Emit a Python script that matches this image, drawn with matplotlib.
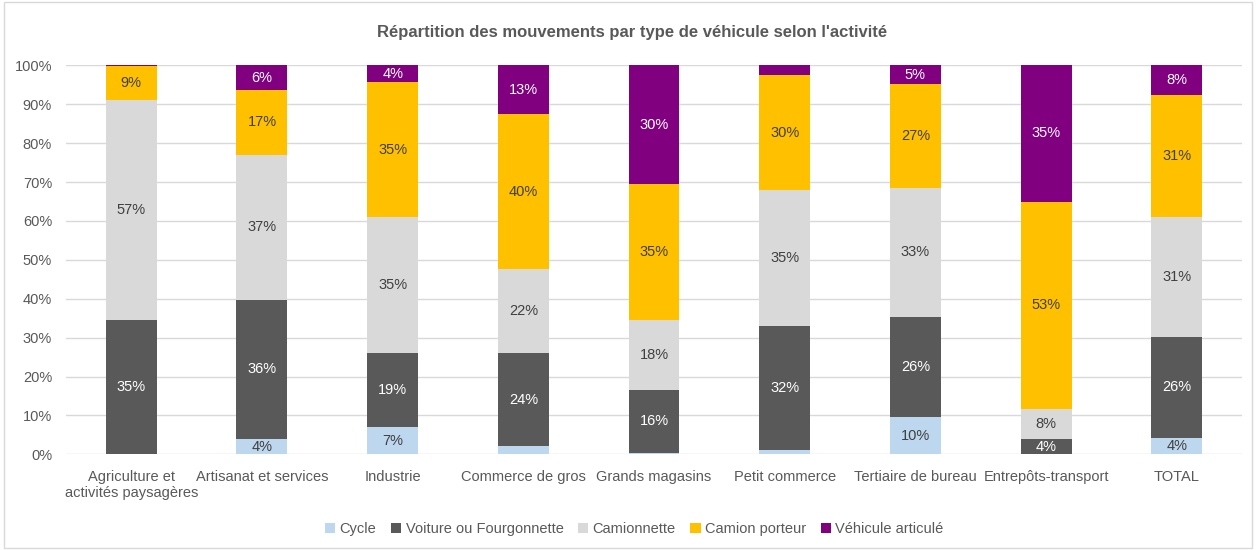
import matplotlib.pyplot as plt
import numpy as np
from matplotlib.patches import Rectangle
from matplotlib import font_manager

# part des mouvements (%) par activité et par type de véhicule
activites = ["Agriculture et\nactivités paysagères", "Artisanat et services", "Industrie",
             "Commerce de gros", "Grands magasins", "Petit commerce",
             "Tertiaire de bureau", "Entrepôts-transport", "TOTAL"]
vehicules = ["Cycle", "Voiture ou Fourgonnette", "Camionnette", "Camion porteur", "Véhicule articulé"]

cycle       = [0.0, 3.9, 7.0, 2.1, 0.3, 1.0, 9.6, 0.0, 4.2]
voiture     = [34.6, 35.9, 19.0, 23.9, 16.3, 31.9, 25.6, 4.0, 26.0]
camionnette = [56.6, 37.2, 35.0, 21.6, 18.0, 35.0, 33.4, 7.6, 30.8]
porteur     = [8.6, 16.8, 34.7, 39.8, 35.0, 29.6, 26.7, 53.4, 31.3]
articule    = [0.3, 6.2, 4.3, 12.6, 30.4, 2.5, 4.7, 35.0, 7.7]

couleurs = ["#bdd7ee", "#595959", "#d9d9d9", "#ffc000", "#800080"]
couleurs_txt = ["#404040", "white", "#404040", "#404040", "white"]

noms = {f.name for f in font_manager.fontManager.ttflist}
police = "Liberation Sans Narrow" if "Liberation Sans Narrow" in noms else "Liberation Sans"
plt.rcParams['font.family'] = [police, 'DejaVu Sans']

fig = plt.figure(figsize=(12.56, 5.5), dpi=100)
ax = fig.add_axes([0.0525, 0.174, 0.9364, 0.707])

x = np.arange(len(activites))
bas = np.zeros(len(activites))
series = [cycle, voiture, camionnette, porteur, articule]
for nom, vals, c, ct in zip(vehicules, series, couleurs, couleurs_txt):
    vals = np.array(vals)
    ax.bar(x, vals, 0.39, bottom=bas, color=c, label=nom, zorder=2)
    for xi, b, v in zip(x, bas, vals):
        if v >= 3.5:
            ax.text(xi, b + v / 2, f"{v:.0f}%", ha="center", va="center",
                    color=ct, fontsize=10.5, zorder=3)
    bas += vals

ax.set_xlim(-0.5, len(activites) - 0.5)
ax.set_ylim(0, 100)
ax.set_yticks(np.arange(0, 101, 10))
ax.set_yticklabels([f"{t}%" for t in range(0, 101, 10)])
ax.set_xticks(x)
ax.set_xticklabels(activites)
ax.tick_params(length=0, labelsize=10.5, colors="#595959")
ax.tick_params(axis="x", pad=11)
ax.tick_params(axis="y", pad=10)
ax.yaxis.grid(True, color="#d9d9d9", linewidth=1, zorder=0)
for s in ax.spines.values():
    s.set_visible(False)

fig.suptitle("Répartition des mouvements par type de véhicule selon l'activité",
             x=0.503, y=0.955, fontsize=12, fontweight="bold", color="#595959")

leg = fig.legend(loc="center", bbox_to_anchor=(0.505, 0.038), ncol=5, frameon=False,
                 fontsize=10.5, handlelength=0.7, handleheight=0.7, handletextpad=0.3,
                 columnspacing=1.0)
for t in leg.get_texts():
    t.set_color("#595959")

fig.patches.append(Rectangle((0.003, 0.003), 0.994, 0.994, transform=fig.transFigure,
                             fill=False, edgecolor="#d9d9d9", linewidth=1))

fig.savefig("out.png", dpi=100)
